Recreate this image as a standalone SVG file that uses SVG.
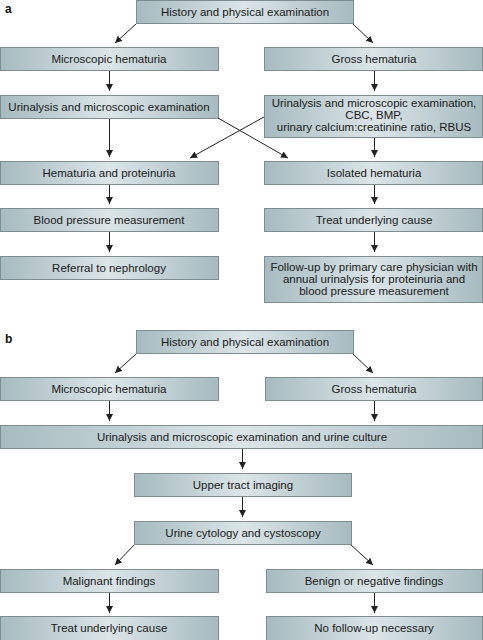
<svg xmlns="http://www.w3.org/2000/svg" width="483" height="640" viewBox="0 0 483 640">
<defs>
<linearGradient id="g" x1="0" y1="0" x2="1" y2="0">
<stop offset="0" stop-color="#a6bbc0"/>
<stop offset="0.5" stop-color="#dce5e8"/>
<stop offset="1" stop-color="#a6bbc0"/>
</linearGradient>
<marker id="ah" viewBox="0 0 10 10" refX="10" refY="5" markerWidth="7" markerHeight="7" markerUnits="userSpaceOnUse" orient="auto">
<path d="M0,0 L10,5 L0,10 z" fill="#222"/>
</marker>
</defs>
<style>
.b{fill:url(#g);stroke:#7d8d91;stroke-width:1}
.t{font-family:"Liberation Sans",Arial,sans-serif;font-size:11.5px;fill:#1a1a1a;text-anchor:middle}
.l{font-family:"Liberation Sans",Arial,sans-serif;font-size:12px;font-weight:bold;fill:#111}
.c{stroke:#222;stroke-width:1;fill:none;marker-end:url(#ah)}
</style>
<rect width="483" height="640" fill="#fff"/>
<text class="l" x="5" y="13">a</text>
<text class="l" x="5" y="343">b</text>

<g id="a-history"><rect class="b" x="136.5" y="0.5" width="217" height="23"/><text class="t" x="245" y="16">History and physical examination</text></g>
<g id="a-micro"><rect class="b" x="0.5" y="47.5" width="218" height="23"/><text class="t" x="109" y="63">Microscopic hematuria</text></g>
<g id="a-gross"><rect class="b" x="264.5" y="47.5" width="218" height="23"/><text class="t" x="374" y="63">Gross hematuria</text></g>
<g id="a-urin-left"><rect class="b" x="0.5" y="95.5" width="218" height="23"/><text class="t" x="109" y="111">Urinalysis and microscopic examination</text></g>
<g id="a-urin-right"><rect class="b" x="264.5" y="95.5" width="218" height="42"/><text class="t" x="374" y="107">Urinalysis and microscopic examination,</text><text class="t" x="374" y="119">CBC, BMP,</text><text class="t" x="374" y="131">urinary calcium:creatinine ratio, RBUS</text></g>
<g id="a-hemprot"><rect class="b" x="0.5" y="161.5" width="218" height="23"/><text class="t" x="109" y="177">Hematuria and proteinuria</text></g>
<g id="a-isolated"><rect class="b" x="264.5" y="161.5" width="218" height="23"/><text class="t" x="374" y="177">Isolated hematuria</text></g>
<g id="a-bp"><rect class="b" x="0.5" y="208.5" width="218" height="23"/><text class="t" x="109" y="224">Blood pressure measurement</text></g>
<g id="a-treat"><rect class="b" x="264.5" y="208.5" width="218" height="23"/><text class="t" x="374" y="224">Treat underlying cause</text></g>
<g id="a-referral"><rect class="b" x="0.5" y="256.5" width="218" height="23"/><text class="t" x="109" y="272">Referral to nephrology</text></g>
<g id="a-followup"><rect class="b" x="264.5" y="256.5" width="218" height="46"/><text class="t" x="374" y="271">Follow-up by primary care physician with</text><text class="t" x="374" y="283">annual urinalysis for proteinuria and</text><text class="t" x="374" y="295">blood pressure measurement</text></g>

<g id="b-history"><rect class="b" x="136.5" y="330.5" width="217" height="23"/><text class="t" x="245" y="346">History and physical examination</text></g>
<g id="b-micro"><rect class="b" x="0.5" y="377.5" width="218" height="23"/><text class="t" x="109" y="393">Microscopic hematuria</text></g>
<g id="b-gross"><rect class="b" x="265.5" y="377.5" width="217" height="23"/><text class="t" x="374" y="393">Gross hematuria</text></g>
<g id="b-urin"><rect class="b" x="0.5" y="425.5" width="482" height="23"/><text class="t" x="242" y="441">Urinalysis and microscopic examination and urine culture</text></g>
<g id="b-upper"><rect class="b" x="134.5" y="473.5" width="217" height="23"/><text class="t" x="243" y="489">Upper tract imaging</text></g>
<g id="b-cyto"><rect class="b" x="134.5" y="521.5" width="217" height="23"/><text class="t" x="243" y="537">Urine cytology and cystoscopy</text></g>
<g id="b-malig"><rect class="b" x="0.5" y="569.5" width="218" height="23"/><text class="t" x="109" y="585">Malignant findings</text></g>
<g id="b-benign"><rect class="b" x="266.5" y="569.5" width="216" height="23"/><text class="t" x="374" y="585">Benign or negative findings</text></g>
<g id="b-treat"><rect class="b" x="0.5" y="616.5" width="218" height="24"/><text class="t" x="109" y="632">Treat underlying cause</text></g>
<g id="b-nofollow"><rect class="b" x="266.5" y="616.5" width="216" height="24"/><text class="t" x="374" y="632">No follow-up necessary</text></g>

<g id="connectors">
<line class="c" x1="136" y1="24" x2="115" y2="43"/>
<line class="c" x1="353" y1="24" x2="373" y2="43"/>
<line class="c" x1="109.5" y1="71" x2="109.5" y2="91"/>
<line class="c" x1="374.5" y1="71" x2="374.5" y2="91"/>
<line class="c" x1="218" y1="118" x2="288" y2="158"/>
<line class="c" x1="264" y1="117" x2="190" y2="158"/>
<line class="c" x1="109.5" y1="119" x2="109.5" y2="157"/>
<line class="c" x1="374.5" y1="138" x2="374.5" y2="157"/>
<line class="c" x1="109.5" y1="185" x2="109.5" y2="204"/>
<line class="c" x1="374.5" y1="185" x2="374.5" y2="204"/>
<line class="c" x1="109.5" y1="232" x2="109.5" y2="252"/>
<line class="c" x1="374.5" y1="232" x2="374.5" y2="252"/>

<line class="c" x1="136" y1="354" x2="115" y2="373"/>
<line class="c" x1="353" y1="354" x2="373" y2="373"/>
<line class="c" x1="109.5" y1="401" x2="109.5" y2="421"/>
<line class="c" x1="374.5" y1="401" x2="374.5" y2="421"/>
<line class="c" x1="242.5" y1="449" x2="242.5" y2="469"/>
<line class="c" x1="242.5" y1="497" x2="242.5" y2="517"/>
<line class="c" x1="134" y1="545" x2="115" y2="565"/>
<line class="c" x1="351" y1="545" x2="373" y2="565"/>
<line class="c" x1="109.5" y1="593" x2="109.5" y2="613"/>
<line class="c" x1="374.5" y1="593" x2="374.5" y2="613"/>
</g>
</svg>
